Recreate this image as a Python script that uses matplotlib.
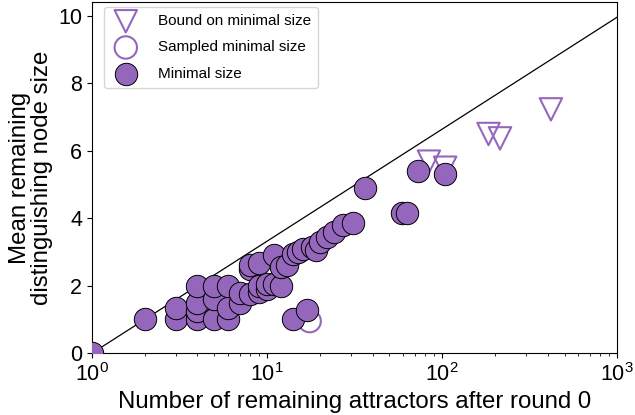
import numpy as np
import matplotlib.pyplot as plt

plt.rcParams['font.family'] = ['Liberation Sans', 'DejaVu Sans']

purple = '#9467bd'

# minimal size (filled circles)
min_x = [1, 2, 3, 3, 4, 4, 4, 4, 5, 5, 5, 6, 6, 6, 7, 7,
         8, 8, 8, 9, 9, 9, 10, 10, 11, 11, 12, 12, 13, 14, 15, 16,
         18, 19, 20, 22, 24, 27, 31, 14, 17, 36, 59, 63, 73, 104]
min_y = [0, 1, 1, 1.33, 1, 1.25, 1.5, 2, 1, 1.6, 2, 1, 1.33, 2, 1.5, 1.78,
         1.75, 2.5, 2.6, 1.8, 2.0, 2.67, 1.9, 2.05, 2.05, 2.9, 2.0, 2.55, 2.6, 2.95, 3.0, 3.1,
         3.15, 3.05, 3.3, 3.45, 3.6, 3.8, 3.85, 1.0, 1.28, 4.9, 4.15, 4.15, 5.4, 5.3]

# sampled minimal size (open circles)
samp_x = [17.5]
samp_y = [0.95]

# bound on minimal size (open triangles)
bound_x = [84, 104, 184, 214, 418]
bound_y = [5.68, 5.5, 6.5, 6.37, 7.23]

fig = plt.figure(figsize=(6.35, 4.15), dpi=100)
ax = fig.add_axes([0.145, 0.149, 0.827, 0.845])

xl = np.logspace(0, 3, 200)
ax.plot(xl, np.log2(xl), color='k', lw=0.9, zorder=1)

ax.scatter(bound_x, bound_y, s=260, marker='v', facecolors='none',
           edgecolors=purple, linewidths=1.5, label='Bound on minimal size', zorder=2)
ax.scatter(samp_x, samp_y, s=260, marker='o', facecolors='none',
           edgecolors=purple, linewidths=1.5, label='Sampled minimal size', zorder=2)
ax.scatter(min_x, min_y, s=260, marker='o', facecolors=purple,
           edgecolors='k', linewidths=0.7, label='Minimal size', zorder=3)

ax.set_xscale('log')
ax.set_xlim(1, 1000)
ax.set_ylim(0, 10.4)
ax.set_yticks([0, 2, 4, 6, 8, 10])
ax.tick_params(labelsize=15.5)
ax.set_xlabel('Number of remaining attractors after round 0', fontsize=17.3)
ax.set_ylabel('Mean remaining\ndistinguishing node size', fontsize=17.3, linespacing=1.0)

ax.legend(loc='upper left', bbox_to_anchor=(0.022, 0.986), borderaxespad=0,
          fontsize=11, borderpad=0.45, labelspacing=0.8, handletextpad=1.1)

fig.savefig('out.png', dpi=100)
